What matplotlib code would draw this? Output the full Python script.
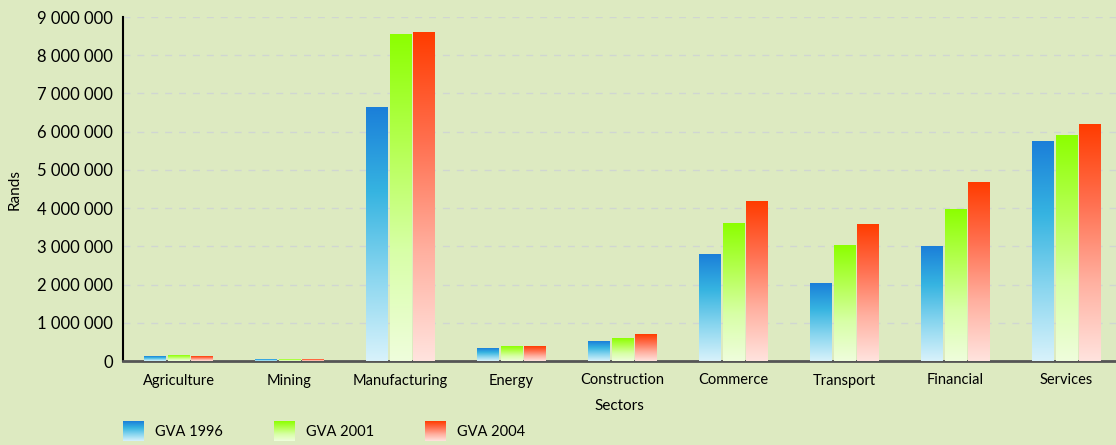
import numpy as np
import matplotlib
matplotlib.use('Agg')
import matplotlib.pyplot as plt
from matplotlib.colors import LinearSegmentedColormap

sectors = ['Agriculture', 'Mining', 'Manufacturing', 'Energy', 'Construction',
           'Commerce', 'Transport', 'Financial', 'Services']
gva_1996 = [130000, 50000, 6640000, 340000, 500000, 2780000, 2040000, 3000000, 5750000]
gva_2001 = [150000, 50000, 8540000, 370000, 580000, 3600000, 3030000, 3970000, 5900000]
gva_2004 = [130000, 50000, 8600000, 370000, 700000, 4180000, 3580000, 4680000, 6180000]
series_names = ['GVA 1996', 'GVA 2001', 'GVA 2004']
y_ticks = [0, 1000000, 2000000, 3000000, 4000000, 5000000, 6000000, 7000000, 8000000, 9000000]

bg = '#ddeac1'
# gradients: bottom -> top
cmaps = [
    LinearSegmentedColormap.from_list('b', ['#d8f2fb', '#8ad6ef', '#36b4e1', '#1b7fd9']),
    LinearSegmentedColormap.from_list('g', ['#effddc', '#d8ffa8', '#b4ff50', '#8cff00']),
    LinearSegmentedColormap.from_list('r', ['#ffe3de', '#ffb0a0', '#ff7050', '#ff3c00']),
]
grad = np.linspace(0, 1, 256).reshape(-1, 1)

plt.rcParams['font.family'] = ['Lato', 'DejaVu Sans']

fig = plt.figure(figsize=(11.16, 4.45), dpi=100, facecolor=bg)
ax = fig.add_axes([123 / 1116, 1 - 361 / 445, (1116 - 123) / 1116, (361 - 17) / 445])
ax.set_facecolor(bg)

x = np.arange(len(sectors))
width = 0.19
offset = 0.212
for i, vals in enumerate([gva_1996, gva_2001, gva_2004]):
    for xi, v in zip(x, vals):
        left = xi + (i - 1) * offset - width / 2
        ax.imshow(grad, cmap=cmaps[i], aspect='auto', origin='lower',
                  extent=[left, left + width, 0, v], zorder=3, interpolation='bilinear')

ax.set_xlim(-0.5, 8.45)
ax.set_ylim(0, 9000000)
ax.set_yticks(y_ticks)
ax.set_yticklabels(['{:,}'.format(t).replace(',', ' ') for t in y_ticks], fontsize=12)
ax.set_xticks(x)
ax.set_xticklabels(sectors, fontsize=10.5)
ax.tick_params(length=0, pad=7)
ax.tick_params(axis='x', pad=9)
ax.grid(axis='y', color='#d0d6d2', linestyle=(0, (5, 5)), linewidth=1, zorder=0)
for s in ['top', 'right']:
    ax.spines[s].set_visible(False)
ax.spines['left'].set_color('black')
ax.spines['left'].set_linewidth(1.5)
ax.spines['bottom'].set_color('#555555')
ax.spines['bottom'].set_linewidth(2)
ax.set_ylabel('Rands', fontsize=11, labelpad=11)
ax.set_xlabel('Sectors', fontsize=11, labelpad=8)

# legend with gradient swatches
for i, name in enumerate(series_names):
    lx = 123 + i * 151
    sw = fig.add_axes([lx / 1116, 1 - 441 / 445, 21 / 1116, 20 / 445])
    sw.imshow(grad, cmap=cmaps[i], aspect='auto', origin='lower', interpolation='bilinear')
    sw.axis('off')
    fig.text((lx + 32) / 1116, 1 - 432 / 445, name, fontsize=10.5, va='center')

fig.savefig('out.png', dpi=100, facecolor=bg)
